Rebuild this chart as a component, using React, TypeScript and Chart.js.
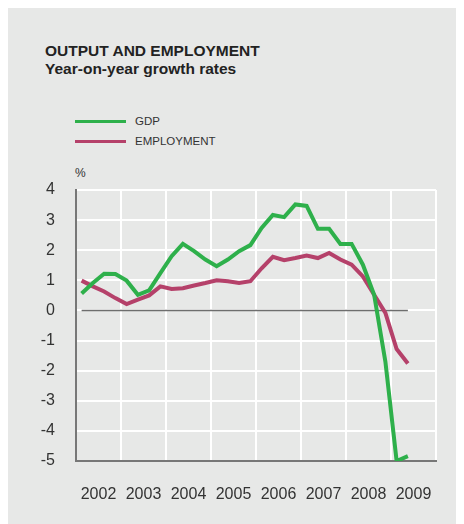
import React, { useEffect, useRef } from "react";
import { Chart, registerables } from "chart.js";

Chart.register(...registerables);

const quarters = [
  "2002Q1", "2002Q2", "2002Q3", "2002Q4",
  "2003Q1", "2003Q2", "2003Q3", "2003Q4",
  "2004Q1", "2004Q2", "2004Q3", "2004Q4",
  "2005Q1", "2005Q2", "2005Q3", "2005Q4",
  "2006Q1", "2006Q2", "2006Q3", "2006Q4",
  "2007Q1", "2007Q2", "2007Q3", "2007Q4",
  "2008Q1", "2008Q2", "2008Q3", "2008Q4",
  "2009Q1", "2009Q2",
];

const gdp = [
  0.56, 0.91, 1.22, 1.21, 0.99, 0.52, 0.67, 1.24, 1.8, 2.21,
  1.97, 1.69, 1.47, 1.69, 1.97, 2.17, 2.74, 3.17, 3.1, 3.52,
  3.47, 2.71, 2.71, 2.21, 2.21, 1.52, 0.52, -1.7, -5.0, -4.84,
];

const employment = [
  0.99, 0.8, 0.63, 0.41, 0.21, 0.36, 0.5, 0.8, 0.71, 0.74,
  0.83, 0.91, 1.0, 0.97, 0.91, 0.97, 1.4, 1.78, 1.67, 1.74,
  1.82, 1.74, 1.91, 1.69, 1.52, 1.13, 0.52, -0.08, -1.28, -1.76,
];

const years = [2002, 2003, 2004, 2005, 2006, 2007, 2008, 2009];
const yTicks = [4, 3, 2, 1, 0, -1, -2, -3, -4, -5];

const GREEN = "#2eb04b";
const CRIMSON = "#b5416a";
const BG = "#e7e8e7";
const TEXT = "#333333";

function quarterToX(q: string): number {
  const y = parseInt(q.slice(0, 4), 10);
  const n = parseInt(q.slice(5), 10);
  return y + (n - 0.5) / 4;
}

export default function App() {
  const ref = useRef<HTMLCanvasElement | null>(null);

  useEffect(() => {
    if (!ref.current) return;
    const xs = quarters.map(quarterToX);
    const minYear = years[0];
    const maxYear = years[years.length - 1] + 1;
    const chart = new Chart(ref.current, {
      type: "line",
      data: {
        datasets: [
          {
            label: "GDP",
            data: xs.map((x, i) => ({ x, y: gdp[i] })),
            borderColor: GREEN,
            borderWidth: 4,
            pointRadius: 0,
            tension: 0,
            order: 1,
          },
          {
            label: "EMPLOYMENT",
            data: xs.map((x, i) => ({ x, y: employment[i] })),
            borderColor: CRIMSON,
            borderWidth: 4,
            pointRadius: 0,
            tension: 0,
            order: 2,
          },
          {
            label: "zero",
            data: [
              { x: xs[0], y: 0 },
              { x: xs[xs.length - 1], y: 0 },
            ],
            borderColor: "#6e6e6e",
            borderWidth: 1.5,
            pointRadius: 0,
            order: 3,
          },
        ],
      },
      options: {
        animation: false,
        responsive: false,
        layout: { padding: { top: 186, right: 28, left: 0, bottom: 0 } },
        plugins: {
          legend: { display: false },
          title: { display: false },
          tooltip: { enabled: false },
        },
        scales: {
          x: {
            type: "linear",
            min: minYear,
            max: maxYear,
            afterBuildTicks: (scale: any) => {
              const t: any[] = [];
              for (let y = minYear; y <= maxYear; y++) {
                t.push({ value: y });
                if (y < maxYear) t.push({ value: y + 0.5 });
              }
              scale.ticks = t;
            },
            afterFit: (scale: any) => {
              scale.height = 63;
            },
            grid: {
              color: (ctx: any) =>
                ctx.tick && Number.isInteger(ctx.tick.value) ? "#ffffff" : "rgba(0,0,0,0)",
              lineWidth: 2,
              drawTicks: false,
            },
            border: { display: true, color: "#777777", width: 2 },
            ticks: {
              autoSkip: false,
              maxRotation: 0,
              padding: 24,
              color: TEXT,
              font: { family: "'Liberation Sans', Arial, sans-serif", size: 16 },
              callback: (v: any) =>
                Number.isInteger(v) ? "" : String(Math.floor(Number(v))),
            },
          },
          y: {
            type: "linear",
            min: yTicks[yTicks.length - 1],
            max: yTicks[0],
            afterBuildTicks: (scale: any) => {
              scale.ticks = yTicks.slice().reverse().map((v) => ({ value: v }));
            },
            afterFit: (scale: any) => {
              scale.width = 68;
            },
            grid: { color: "#ffffff", lineWidth: 2, drawTicks: false },
            border: { display: true, color: "#777777", width: 2 },
            ticks: {
              padding: 21,
              color: TEXT,
              font: { family: "'Liberation Sans', Arial, sans-serif", size: 16 },
              callback: (v: any) => String(v),
            },
          },
        },
      },
    } as any);
    return () => chart.destroy();
  }, []);

  const font = "'Liberation Sans', Arial, Helvetica, sans-serif";

  return (
    <div
      style={{
        position: "relative",
        marginTop: -4,
        width: 456,
        height: 520,
        background: BG,
        fontFamily: font,
        color: TEXT,
      }}
    >
      <div
        style={{
          position: "absolute",
          left: 37,
          top: 38,
          fontSize: 15.5,
          lineHeight: "18px",
          fontWeight: 700,
          color: "#222",
          whiteSpace: "nowrap",
        }}
      >
        OUTPUT AND EMPLOYMENT
      </div>
      <div
        style={{
          position: "absolute",
          left: 37,
          top: 56,
          fontSize: 15.5,
          lineHeight: "18px",
          fontWeight: 700,
          color: "#222",
          whiteSpace: "nowrap",
        }}
      >
        Year-on-year growth rates
      </div>
      <div style={{ position: "absolute", left: 67, top: 115.5, width: 51, height: 3, background: GREEN }} />
      <div
        style={{ position: "absolute", left: 127, top: 110, fontSize: 11.5, lineHeight: "14px", whiteSpace: "nowrap" }}
      >
        GDP
      </div>
      <div style={{ position: "absolute", left: 67, top: 135.5, width: 51, height: 3, background: CRIMSON }} />
      <div
        style={{ position: "absolute", left: 127, top: 130, fontSize: 11.5, lineHeight: "14px", whiteSpace: "nowrap" }}
      >
        EMPLOYMENT
      </div>
      <div
        style={{ position: "absolute", left: 67, top: 162, fontSize: 12, lineHeight: "14px", whiteSpace: "nowrap" }}
      >
        %
      </div>
      <canvas
        ref={ref}
        width={456}
        height={520}
        style={{ position: "absolute", left: 0, top: 0, width: 456, height: 520 }}
      />
    </div>
  );
}
